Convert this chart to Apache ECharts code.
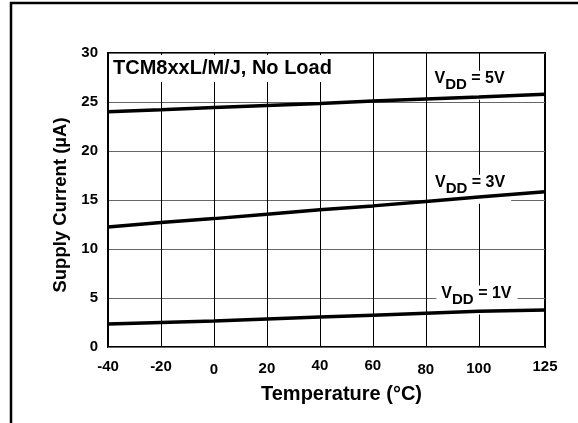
<!DOCTYPE html>
<html>
<head>
<meta charset="utf-8">
<script src="https://cdn.jsdelivr.net/npm/echarts@6/dist/echarts.min.js"></script>
<style>html,body{margin:0;padding:0;background:#fff;}#c{width:578px;height:423px;}</style>
</head>
<body>
<div id="c"></div>
<script>
var temperatures = [-40, -20, 0, 20, 40, 60, 80, 100, 125];
var vdd5 = [24.0, 24.2, 24.45, 24.65, 24.85, 25.1, 25.3, 25.5, 25.8];
var vdd3 = [12.25, 12.7, 13.1, 13.55, 14.0, 14.4, 14.85, 15.3, 15.85];
var vdd1 = [2.35, 2.5, 2.65, 2.85, 3.05, 3.25, 3.45, 3.65, 3.78];
var xTicks = [-40, -20, 0, 20, 40, 60, 80, 100, 125];
var seriesNames = ['5V', '3V', '1V'];
var titleText = 'TCM8xxL/M/J, No Load';
var xName = 'Temperature (°C)';
var yName = 'Supply Current (µA)';

var FONT = '"Liberation Sans", Arial, Helvetica, sans-serif';
function pairs(ys) { return temperatures.map(function (t, i) { return [t, ys[i]]; }); }
var labelPad = {'-40': 1, '-20': 1, '0': 4, '20': 3, '40': 0, '60': 0, '80': 4, '100': 3, '125': 1};

function vddLabel(name, coord) {
  return {
    z: 1,
    symbol: 'circle', symbolSize: 0,
    data: [{ coord: coord, value: name }],
    label: {
      show: true, position: 'inside',
      backgroundColor: '#fff', padding: [0, 6, 0, 5],
      formatter: '{v|V}{s|DD}{v| = ' + name + '}',
      rich: {
        v: { fontFamily: FONT, fontSize: 16, fontWeight: 'bold', color: '#000', lineHeight: 15, verticalAlign: 'top' },
        s: { fontFamily: FONT, fontSize: 15, fontWeight: 'bold', color: '#000', lineHeight: 29 }
      }
    }
  };
}

var chart = echarts.init(document.getElementById('c'));
chart.setOption({
  animation: false,
  backgroundColor: '#fff',
  graphic: [{
    type: 'rect', z: 100,
    shape: { x: 11, y: 3, width: 700, height: 600 },
    style: { fill: 'none', stroke: '#000', lineWidth: 2.5 }
  }],
  title: {
    text: titleText, left: 109, top: 55, padding: [3, 6, 4, 4],
    backgroundColor: '#fff',
    textStyle: { fontFamily: FONT, fontSize: 20, fontWeight: 'bold', color: '#000' }
  },
  grid: { left: 108, right: 33, top: 53, bottom: 76, show: true, borderColor: '#000', borderWidth: 2, backgroundColor: 'transparent' },
  xAxis: {
    type: 'value', min: -40, max: 125, interval: 20,
    name: xName, nameLocation: 'middle', nameGap: 37,
    nameTextStyle: { fontFamily: FONT, fontSize: 20, fontWeight: 'bold', color: '#000', padding: [0, 0, 0, 30] },
    axisLine: { show: false },
    axisTick: { show: false, customValues: xTicks },
    splitLine: { show: true, lineStyle: { color: '#000', width: 1 } },
    axisLabel: {
      customValues: xTicks, margin: 11,
      formatter: function (v) { return '{p' + labelPad[String(v)] + '|' + v + '}'; },
      rich: {
        p0: { fontFamily: FONT, fontSize: 15, fontWeight: 'bold', color: '#000', padding: [0, 0, 0, 0] },
        p1: { fontFamily: FONT, fontSize: 15, fontWeight: 'bold', color: '#000', padding: [1, 0, 0, 0] },
        p3: { fontFamily: FONT, fontSize: 15, fontWeight: 'bold', color: '#000', padding: [3, 0, 0, 0] },
        p4: { fontFamily: FONT, fontSize: 15, fontWeight: 'bold', color: '#000', padding: [4, 0, 0, 0] }
      }
    }
  },
  yAxis: {
    type: 'value', min: 0, max: 30, interval: 5,
    name: yName, nameLocation: 'middle', nameGap: 36,
    nameTextStyle: { fontFamily: FONT, fontSize: 18.5, fontWeight: 'bold', color: '#000', padding: [0, 10, 0, 0] },
    axisLine: { show: false },
    axisTick: { show: false },
    splitLine: { show: true, lineStyle: { color: '#666', width: 1 } },
    axisLabel: { margin: 10, fontFamily: FONT, fontSize: 15, fontWeight: 'bold', color: '#000' }
  },
  series: [
    { name: seriesNames[0], type: 'line', data: pairs(vdd5), symbol: 'none', lineStyle: { color: '#000', width: 3.5 }, z: 3,
      markPoint: vddLabel(seriesNames[0], [96.7, 26.7]) },
    { name: seriesNames[1], type: 'line', data: pairs(vdd3), symbol: 'none', lineStyle: { color: '#000', width: 3.5 }, z: 3,
      markPoint: vddLabel(seriesNames[1], [96.9, 16.1]) },
    { name: seriesNames[2], type: 'line', data: pairs(vdd1), symbol: 'none', lineStyle: { color: '#000', width: 3.5 }, z: 3,
      markPoint: vddLabel(seriesNames[2], [99.3, 4.8]) }
  ]
});
</script>
</body>
</html>
